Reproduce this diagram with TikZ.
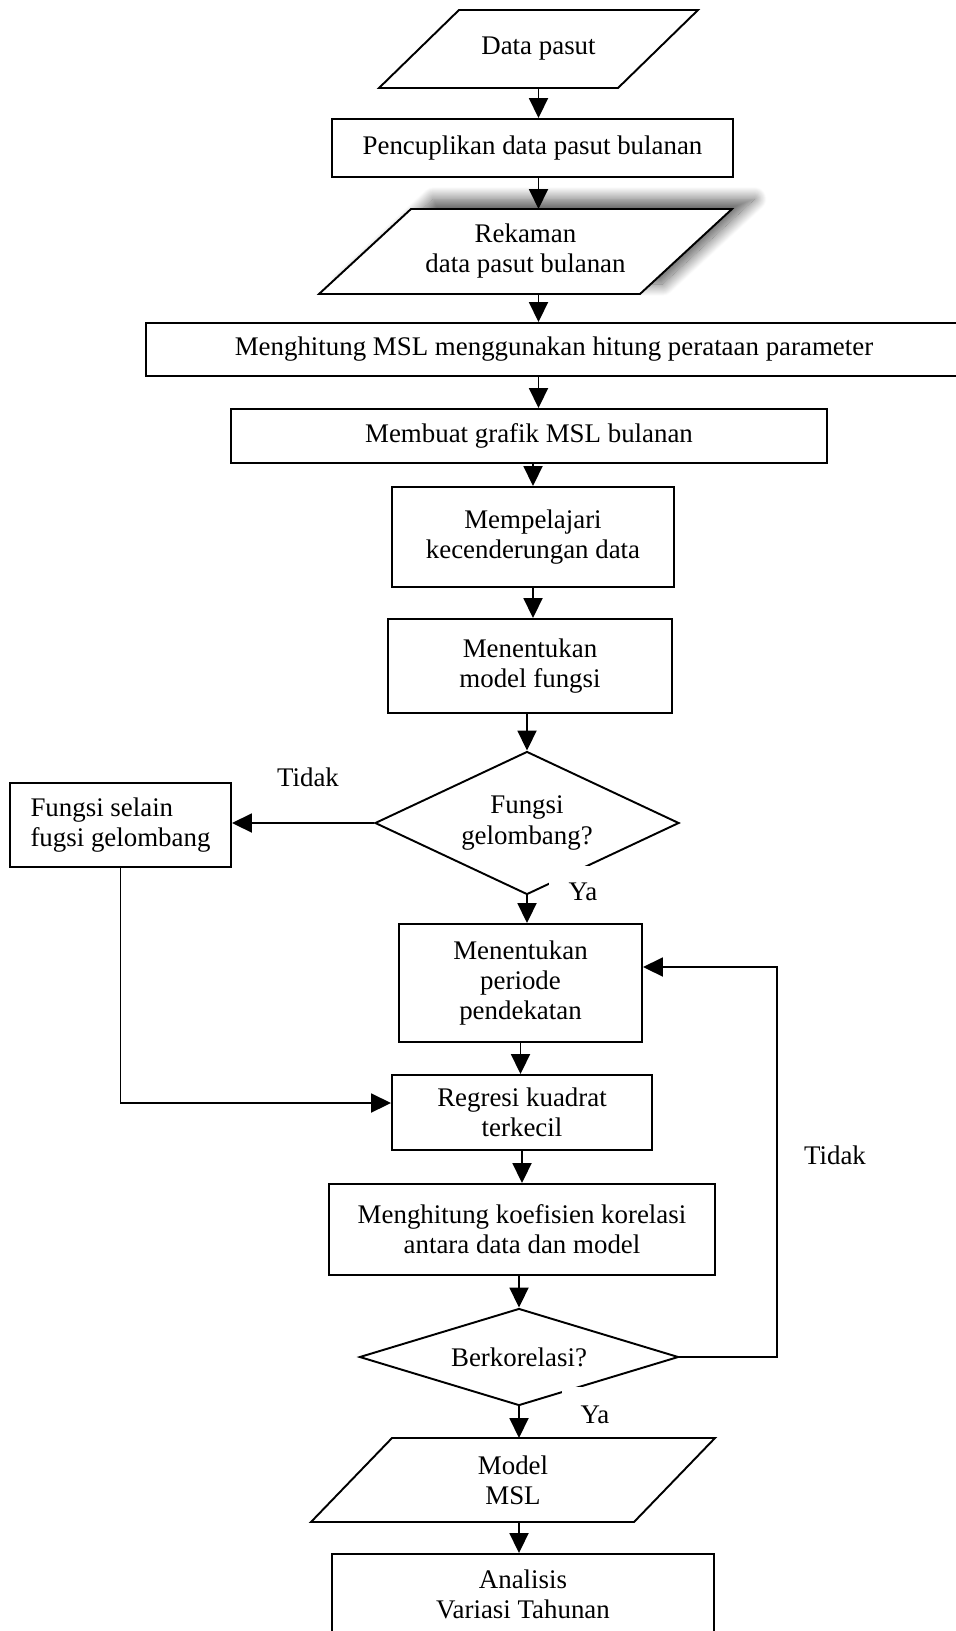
\documentclass[tikz,border=0pt]{standalone}
\usepackage{fontspec}
\setmainfont{Liberation Serif}
\usepackage{tikz}
\usetikzlibrary{arrows.meta,shapes,shadows.blur}
\tikzstyle{process} = [rectangle, draw=black, fill=white, line width=1.1pt, align=center, inner sep=2pt]
\tikzstyle{iodata} = [rectangle, draw=none, outer sep=0pt, align=center, inner sep=2pt]
\tikzstyle{iopath} = [draw=black, line width=1.1pt]
\tikzstyle{decision} = [diamond, draw=black, fill=white, line width=1.1pt, align=center, inner sep=0pt]
\tikzstyle{arrow} = [line width=1.1pt, -{Triangle[width=0.38cm,length=0.4cm]}]
\tikzstyle{yabox} = [fill=white, inner sep=0pt, minimum width=1.36cm, minimum height=1.04cm]
% jajaran genjang di sekeliling node: nama node, geseran sisi miring
\newcommand{\jajar}[3][]{\path[iopath,#1] (#2.south west) -- ([xshift=-#3]#2.south east) -- (#2.north east) -- ([xshift=#3]#2.north west) -- cycle;}

\begin{document}
\begin{tikzpicture}[font=\fontsize{15.3}{17.1}\selectfont]
\useasboundingbox (0,0) rectangle (19.10,-32.62);
% main flow
\node[iodata, minimum width=6.38cm, minimum height=1.56cm] (dp) at (10.77,-0.98) {Data pasut};
\node[process, minimum width=8.02cm, minimum height=1.16cm] (pc) at (10.65,-2.96) {Pencuplikan data pasut bulanan};
\node[iodata, minimum width=8.26cm, minimum height=1.70cm] (rk) at (10.51,-5.03) {};
\begin{scope}
\jajar[fill=white, blur shadow={shadow xshift=0.45cm, shadow yshift=0.2cm, shadow blur radius=0.24cm, shadow blur steps=25, shadow opacity=65}]{rk}{1.84cm}
\end{scope}
\node[align=center, inner sep=0pt] (rkteks) at (rk) {Rekaman\\data pasut bulanan};
\node[process, minimum width=16.32cm, minimum height=1.06cm] (msl) at (11.08,-6.99) {Menghitung MSL menggunakan hitung perataan parameter};
\node[process, minimum width=11.92cm, minimum height=1.08cm] (mg) at (10.58,-8.72) {Membuat grafik MSL bulanan};
\node[process, minimum width=5.64cm, minimum height=2.00cm] (mp) at (10.66,-10.74) {Mempelajari\\kecenderungan data};
\node[process, minimum width=5.68cm, minimum height=1.88cm] (mm) at (10.60,-13.32) {Menentukan\\model fungsi};
\node[decision, aspect=2.13, minimum width=6.08cm, minimum height=2.86cm] (dfg) at (10.54,-16.46) {Fungsi\\gelombang?};
\node[yabox] (ya1) at (11.66,-17.84) {Ya};
\node (tidak1) at (6.16,-15.54) {Tidak};
\node[process, align=left, minimum width=4.42cm, minimum height=1.68cm] (fs) at (2.41,-16.50) {Fungsi selain\\fugsi gelombang};
\node[process, minimum width=4.86cm, minimum height=2.36cm] (mper) at (10.41,-19.66) {Menentukan\\periode\\pendekatan};
\node[process, minimum width=5.20cm, minimum height=1.50cm] (rg) at (10.44,-22.25) {Regresi kuadrat\\terkecil};
\node[process, minimum width=7.72cm, minimum height=1.82cm] (mk) at (10.44,-24.59) {Menghitung koefisien korelasi\\antara data dan model};
\node[decision, aspect=3.29, minimum width=6.38cm, minimum height=1.94cm] (db) at (10.38,-27.14) {Berkorelasi?};
\node[yabox, minimum width=1.32cm, minimum height=1.12cm] (ya2) at (11.90,-28.30) {Ya};
\node (tidak2) at (16.70,-23.10) {Tidak};
\node[iodata, minimum width=8.08cm, minimum height=1.68cm] (mo) at (10.26,-29.60) {Model\\MSL};
\node[process, minimum width=7.64cm, minimum height=1.60cm] (an) at (10.46,-31.88) {Analisis\\Variasi Tahunan};

\jajar{dp}{1.60cm}
\jajar{mo}{1.62cm}

\coordinate (balik) at (15.54,-19.34);

\draw[arrow] (dp.south) -- (dp.south |- pc.north);
\draw[arrow] (pc.south -| dp.south) -- (dp.south |- rk.north);
\draw[arrow] (rk.south -| dp.south) -- (dp.south |- msl.north);
\draw[arrow] (msl.south -| dp.south) -- (dp.south |- mg.north);
\draw[arrow] (mg.south -| mp.north) -- (mp.north);
\draw[arrow] (mp.south) -- (mp.south |- mm.north);
\draw[arrow] (mm.south -| dfg.north) -- (dfg.north);
\draw[arrow] (dfg.south) -- (dfg.south |- mper.north);
\draw[arrow] (mper.south) -- (mper.south |- rg.north);
\draw[arrow] (rg.south) -- (rg.south |- mk.north);
\draw[arrow] (mk.south -| db.north) -- (db.north);
\draw[arrow] (db.south) -- (db.south |- mo.north);
\draw[arrow] (mo.south -| db.south) -- (db.south |- an.north);
% cabang
\draw[arrow] (dfg.west) -- (dfg.west -| fs.east);
\draw[arrow] (fs.south) |- ([yshift=0.19cm]rg.west);
\draw[arrow] (db.east) -| (balik) -- (balik -| mper.east);
\end{tikzpicture}
\end{document}
